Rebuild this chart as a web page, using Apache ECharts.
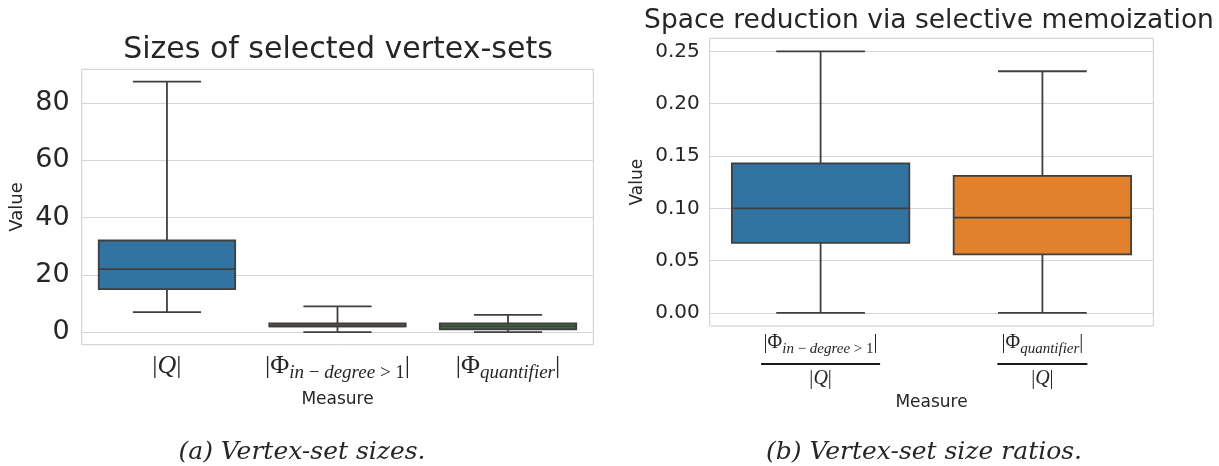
<!DOCTYPE html>
<html><head><meta charset="utf-8">
<script src="https://cdn.jsdelivr.net/npm/echarts@6/dist/echarts.min.js"></script>
<style>html,body{margin:0;padding:0;background:#fff}#c{width:1219px;height:466px}</style>
</head><body><div id="c"></div>
<script>
// ---- data: left panel (vertex-set sizes) ----
const leftCategories = ['Q', 'PhiIn', 'PhiQ'];
const leftMin    = [7, 0, 0];
const leftQ1     = [15, 2, 1];
const leftMedian = [22, 2, 2];
const leftQ3     = [32, 3, 3];
const leftMax    = [87.5, 9, 6];
const leftTicks  = [0, 20, 40, 60, 80];

// ---- data: right panel (vertex-set size ratios) ----
const rightCategories = ['ratioIn', 'ratioQ'];
const rightMin    = [0, 0];
const rightQ1     = [0.067, 0.056];
const rightMedian = [0.100, 0.091];
const rightQ3     = [0.143, 0.131];
const rightMax    = [0.250, 0.231];
const rightTicks  = [0, 0.05, 0.10, 0.15, 0.20, 0.25];

const leftFills  = ['#3274a1', '#7a5446', '#3d7a3d'];
const rightFills = ['#3274a1', '#e1812c'];
const EDGE = '#3f3f3f';
const TXT = '#262626';
const SANS = 'DejaVu Sans';
const SERIF = 'Liberation Serif';

function toRows(mn, q1, md, q3, mx) {
  return mn.map((v, i) => [i, mn[i], q1[i], md[i], q3[i], mx[i]]);
}

function boxRender(fills) {
  return function (params, api) {
    const x = api.value(0);
    const band = api.size([1, 0])[0];
    const bw = band * 0.8, cw = band * 0.4;
    const pMin = api.coord([x, api.value(1)]);
    const pQ1 = api.coord([x, api.value(2)]);
    const pMed = api.coord([x, api.value(3)]);
    const pQ3 = api.coord([x, api.value(4)]);
    const pMax = api.coord([x, api.value(5)]);
    const cx = pMed[0];
    const ls = { stroke: EDGE, lineWidth: 1.8, fill: null };
    return {
      type: 'group', children: [
        { type: 'line', shape: { x1: cx, y1: pQ3[1], x2: cx, y2: pMax[1] }, style: ls },
        { type: 'line', shape: { x1: cx, y1: pMin[1], x2: cx, y2: pQ1[1] }, style: ls },
        { type: 'line', shape: { x1: cx - cw / 2, y1: pMax[1], x2: cx + cw / 2, y2: pMax[1] }, style: ls },
        { type: 'line', shape: { x1: cx - cw / 2, y1: pMin[1], x2: cx + cw / 2, y2: pMin[1] }, style: ls },
        { type: 'rect', shape: { x: cx - bw / 2, y: pQ3[1], width: bw, height: pQ1[1] - pQ3[1] },
          style: { fill: fills[params.dataIndex], stroke: EDGE, lineWidth: 1.8 } },
        { type: 'line', shape: { x1: cx - bw / 2, y1: pMed[1], x2: cx + bw / 2, y2: pMed[1] }, style: ls }
      ]
    };
  };
}

const leftLabelText = {
  Q: '{r||}{i|Q}{r||}',
  PhiIn: '{r||Φ}{s|in}{su| − }{s|degree}{su| > 1}{r||}',
  PhiQ: '{r||Φ}{s|quantifier}{r||}'
};
const rightLabelText = {
  ratioIn: '{n||Φ}{t|in}{tu| − }{t|degree}{tu| > 1}{n||}\n{barA|}{gap|}\n{d||}{di|Q}{d||}',
  ratioQ: '{n||Φ}{t|quantifier}{n||}\n{barB|}{gap|}\n{d||}{di|Q}{d||}'
};

const leftRich = {
  r: { fontFamily: SERIF, fontSize: 26, lineHeight: 30, verticalAlign: 'top', color: TXT },
  i: { fontFamily: SERIF, fontStyle: 'italic', fontSize: 26, lineHeight: 30, verticalAlign: 'top', color: TXT },
  s: { fontFamily: SERIF, fontStyle: 'italic', fontSize: 19, lineHeight: 14, verticalAlign: 'bottom', color: TXT },
  su: { fontFamily: SERIF, fontSize: 19, lineHeight: 14, verticalAlign: 'bottom', color: TXT }
};
const rightRich = {
  n: { fontFamily: SERIF, fontSize: 20, lineHeight: 24, verticalAlign: 'top', color: TXT },
  t: { fontFamily: SERIF, fontStyle: 'italic', fontSize: 15, lineHeight: 12, verticalAlign: 'bottom', color: TXT },
  tu: { fontFamily: SERIF, fontSize: 15, lineHeight: 12, verticalAlign: 'bottom', color: TXT },
  barA: { width: 119, height: 2, backgroundColor: '#1a1a1a' },
  barB: { width: 90, height: 2, backgroundColor: '#1a1a1a' },
  gap: { width: 0, lineHeight: 14, fontSize: 2 },
  d: { fontFamily: SERIF, fontSize: 20, lineHeight: 16, color: TXT },
  di: { fontFamily: SERIF, fontStyle: 'italic', fontSize: 20, lineHeight: 16, color: TXT }
};

const chart = echarts.init(document.getElementById('c'), null, { renderer: 'canvas' });
chart.setOption({
  backgroundColor: '#fff',
  animation: false,
  grid: [
    { left: 81.7, top: 69.3, width: 511.6, height: 275.4, show: true, borderColor: '#cccccc', borderWidth: 1, backgroundColor: 'transparent' },
    { left: 709.7, top: 38.3, width: 443.6, height: 287.7, show: true, borderColor: '#cccccc', borderWidth: 1, backgroundColor: 'transparent' }
  ],
  xAxis: [
    { type: 'category', gridIndex: 0, data: leftCategories, boundaryGap: true,
      axisLine: { show: false }, axisTick: { show: false }, splitLine: { show: false },
      axisLabel: { interval: 0, hideOverlap: false, margin: 8, formatter: v => leftLabelText[v], rich: leftRich },
      name: 'Measure', nameLocation: 'middle', nameGap: 46,
      nameTextStyle: { fontFamily: SANS, fontSize: 17, color: TXT } },
    { type: 'category', gridIndex: 1, data: rightCategories, boundaryGap: true,
      axisLine: { show: false }, axisTick: { show: false }, splitLine: { show: false },
      axisLabel: { interval: 0, hideOverlap: false, margin: 7, formatter: v => rightLabelText[v], rich: rightRich },
      name: 'Measure', nameLocation: 'middle', nameGap: 68,
      nameTextStyle: { fontFamily: SANS, fontSize: 17, color: TXT } }
  ],
  yAxis: [
    { type: 'value', gridIndex: 0, min: -4.4, max: 91.8,
      axisLine: { show: false }, axisTick: { show: false, customValues: leftTicks },
      axisLabel: { customValues: leftTicks, fontFamily: SANS, fontSize: 27, color: TXT, margin: 12 },
      splitLine: { show: true, lineStyle: { color: '#d6d6d6', width: 1 } },
      name: 'Value', nameLocation: 'middle', nameRotate: 90, nameGap: 55,
      nameTextStyle: { fontFamily: SANS, fontSize: 18, color: TXT } },
    { type: 'value', gridIndex: 1, min: -0.0125, max: 0.2625,
      axisLine: { show: false }, axisTick: { show: false, customValues: rightTicks },
      axisLabel: { customValues: rightTicks, fontFamily: SANS, fontSize: 20, color: TXT, margin: 10,
        formatter: v => v.toFixed(2) },
      splitLine: { show: true, lineStyle: { color: '#d6d6d6', width: 1 } },
      name: 'Value', nameLocation: 'middle', nameRotate: 90, nameGap: 64,
      nameTextStyle: { fontFamily: SANS, fontSize: 17, color: TXT } }
  ],
  series: [
    { type: 'custom', xAxisIndex: 0, yAxisIndex: 0, renderItem: boxRender(leftFills),
      encode: { x: 0, y: [1, 2, 3, 4, 5] },
      data: toRows(leftMin, leftQ1, leftMedian, leftQ3, leftMax), z: 3 },
    { type: 'custom', xAxisIndex: 1, yAxisIndex: 1, renderItem: boxRender(rightFills),
      encode: { x: 0, y: [1, 2, 3, 4, 5] },
      data: toRows(rightMin, rightQ1, rightMedian, rightQ3, rightMax), z: 3 }
  ],
  graphic: [
    { type: 'text', x: 338, y: 50, style: { text: 'Sizes of selected vertex-sets', align: 'center', verticalAlign: 'middle', fontFamily: SANS, fontSize: 30, fill: TXT } },
    { type: 'text', x: 929, y: 21, style: { text: 'Space reduction via selective memoization', align: 'center', verticalAlign: 'middle', fontFamily: SANS, fontSize: 26.5, fill: TXT } },
    { type: 'text', x: 302, y: 452, style: { text: '(a) Vertex-set sizes.', align: 'center', verticalAlign: 'middle', fontFamily: 'DejaVu Serif', fontStyle: 'italic', fontSize: 25, fill: TXT } },
    { type: 'text', x: 924, y: 452, style: { text: '(b) Vertex-set size ratios.', align: 'center', verticalAlign: 'middle', fontFamily: 'DejaVu Serif', fontStyle: 'italic', fontSize: 25, fill: TXT } }
  ]
});
</script></body></html>
